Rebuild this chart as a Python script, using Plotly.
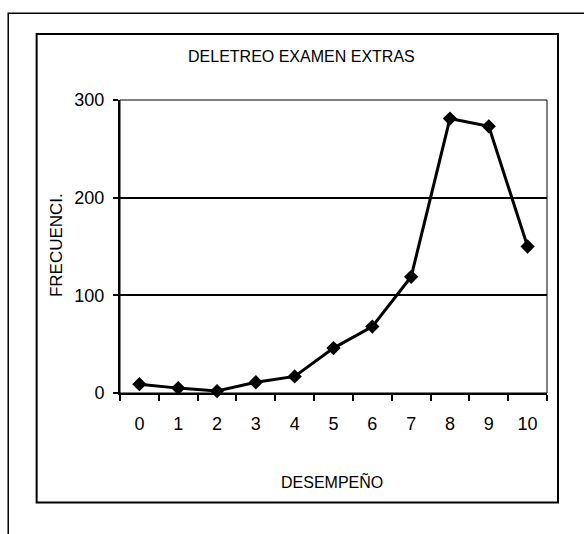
import plotly.graph_objects as go

# Spelling exam scores (0-10) and how many students got each one
desempeno = ["0", "1", "2", "3", "4", "5", "6", "7", "8", "9", "10"]
frecuencia = [9, 5, 2, 11, 17, 46, 68, 119, 281, 273, 150]

titulo = "DELETREO EXAMEN EXTRAS"
titulo_x = "DESEMPEÑO"
titulo_y = "FRECUENCI."

W, H = 584, 534
# plot-area box in pixels
L, R, T, B = 120, 546.7, 100, 392.7

def fx(px):
    return (px - L) / (R - L)

def fy(py):
    return (B - py) / (B - T)

FONT = "Liberation Sans, Arial, sans-serif"

fig = go.Figure()
fig.add_trace(go.Scatter(
    x=desempeno, y=frecuencia, mode="lines+markers",
    line=dict(color="black", width=3),
    marker=dict(symbol="diamond", size=11, color="black"),
    showlegend=False, cliponaxis=False,
))

fig.update_layout(
    width=W, height=H,
    margin=dict(l=L, r=W - R, t=T, b=H - B, pad=0),
    paper_bgcolor="white", plot_bgcolor="white",
    font=dict(family=FONT, size=18, color="black"),
    xaxis=dict(
        type="category", range=[-0.5, 10.5],
        showline=True, linecolor="black", linewidth=2,
        ticks="outside", ticklen=6, tickwidth=1.5, tickcolor="black",
        tickson="boundaries", showgrid=False, zeroline=False,
        ticklabelstandoff=13,
        tickfont=dict(family=FONT, size=18),
    ),
    yaxis=dict(
        range=[0, 300], dtick=100, tick0=0,
        showline=True, linecolor="black", linewidth=2,
        ticks="outside", ticklen=5, tickwidth=1.5, tickcolor="black",
        showgrid=True, gridcolor="black", gridwidth=2, zeroline=False,
        ticklabelstandoff=5,
        tickfont=dict(family=FONT, size=18),
    ),
    shapes=[
        # outer frame
        dict(type="rect", xref="paper", yref="paper",
             x0=fx(8.3), x1=fx(600), y0=fy(13.3), y1=fy(560),
             line=dict(color="black", width=1.5), layer="below"),
        # chart frame
        dict(type="rect", xref="paper", yref="paper",
             x0=fx(36.7), x1=fx(557.7), y0=fy(34), y1=fy(502),
             line=dict(color="black", width=2), layer="below"),
        # plot-area border
        dict(type="rect", xref="paper", yref="paper",
             x0=0, x1=1, y0=0, y1=1,
             line=dict(color="black", width=1), layer="below"),
    ],
    annotations=[
        dict(text=titulo, xref="paper", yref="paper", x=fx(301), y=fy(57),
             xanchor="center", yanchor="middle", showarrow=False,
             font=dict(family=FONT, size=16)),
        dict(text=titulo_x, xref="paper", yref="paper", x=fx(332), y=fy(481),
             xanchor="center", yanchor="middle", showarrow=False,
             font=dict(family=FONT, size=16)),
        dict(text=titulo_y, xref="paper", yref="paper", x=fx(56), y=fy(245),
             xanchor="center", yanchor="middle", showarrow=False, textangle=-90,
             font=dict(family=FONT, size=17)),
    ],
)

fig.write_html("out.html")
